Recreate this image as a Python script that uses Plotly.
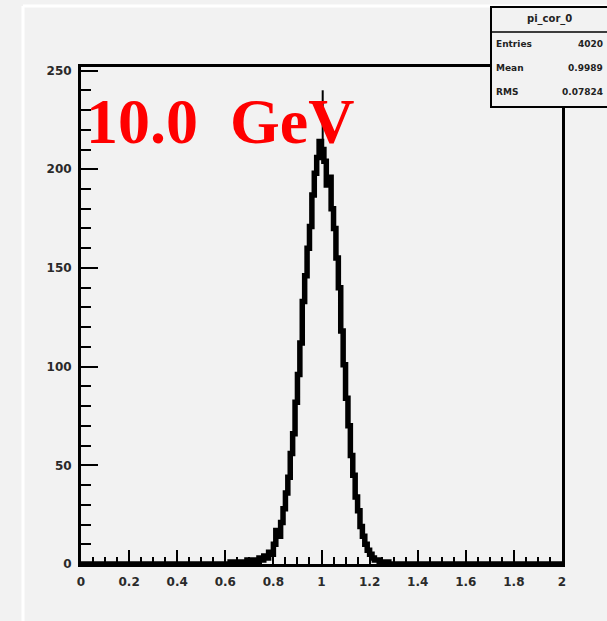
import numpy as np
import plotly.graph_objects as go

# Histogram "pi_cor_0": 200 bins of width 0.01 on [0, 2]; only bins 0.60-1.29 are filled
bin_width = 0.01
first_filled_edge = 0.60
counts = [
    0, 0, 1, 0, 0, 1, 0, 1, 1, 2,          # 0.60 - 0.69
    1, 1, 2, 1, 3, 2, 4, 3, 6, 5,          # 0.70 - 0.79
    10, 17, 14, 21, 28, 36, 44, 56, 66, 82,  # 0.80 - 0.89
    96, 112, 133, 146, 160, 171, 187, 198, 206, 214,  # 0.90 - 0.99
    210, 204, 192, 196, 180, 170, 155, 140, 118, 101,  # 1.00 - 1.09
    84, 70, 55, 45, 34, 27, 19, 14, 10, 7,  # 1.10 - 1.19
    5, 3, 2, 2, 1, 1, 0, 1, 0, 0,          # 1.20 - 1.29
]
# single tall entry marker in the peak bin
spike_x = 1.005
spike_bottom = 205
spike_top = 240

stats_title = "pi_cor_0"
stats_rows = [("Entries", "4020"), ("Mean", "0.9989"), ("RMS", "0.07824")]
energy_label = "10.0\u00a0 GeV"

x_range = [0, 2]
y_range = [0, 251.8]
x_ticks = [0, 0.2, 0.4, 0.6, 0.8, 1, 1.2, 1.4, 1.6, 1.8, 2]
y_ticks = [0, 50, 100, 150, 200, 250]

# full binning over the axis range
n_bins = int(round((x_range[1] - x_range[0]) / bin_width))
edges = x_range[0] + bin_width * np.arange(n_bins + 1)
full = np.zeros(n_bins)
start = int(round((first_filled_edge - x_range[0]) / bin_width))
full[start:start + len(counts)] = counts

step_x = edges
step_y = np.append(full, full[-1])

W, H = 607, 621
L, R, T, B = 81, 45, 67, 57
BG = "#f2f2f2"


def px_x(px):
    return (px - L) / (W - L - R)


def px_y(py):
    return (H - B - py) / (H - T - B)


fig = go.Figure()
fig.add_trace(go.Scatter(
    x=[spike_x, spike_x], y=[spike_bottom, spike_top], mode="lines",
    line=dict(color="black", width=2), hoverinfo="skip", showlegend=False))
fig.add_trace(go.Scatter(
    x=step_x, y=step_y, mode="lines", line_shape="hv",
    line=dict(color="black", width=5.5), showlegend=False))

axis_font = dict(family="DejaVu Sans", size=12, color="#2a2a2a", weight="bold")

fig.update_layout(
    width=W, height=H,
    margin=dict(l=L, r=R, t=T, b=B, pad=0),
    paper_bgcolor=BG, plot_bgcolor=BG,
    showlegend=False,
    xaxis=dict(
        range=x_range, tickvals=x_ticks, ticks="inside", ticklen=14, tickwidth=2,
        tickcolor="black", showline=True, linewidth=3, linecolor="black",
        mirror=True, showgrid=False, zeroline=False, tickfont=axis_font,
        ticklabelstandoff=5,
        minor=dict(dtick=0.05, ticks="inside", ticklen=7, tickwidth=2,
                   tickcolor="black", showgrid=False),
    ),
    yaxis=dict(
        range=y_range, tickvals=y_ticks, ticks="inside", ticklen=17, tickwidth=2,
        tickcolor="black", showline=True, linewidth=3, linecolor="black",
        mirror=True, showgrid=False, zeroline=False, tickfont=axis_font,
        ticklabelstandoff=4,
        minor=dict(dtick=10, ticks="inside", ticklen=10, tickwidth=2,
                   tickcolor="black", showgrid=False),
    ),
)

shapes = [
    # white canvas frame lines
    dict(type="line", xref="paper", yref="paper", x0=px_x(23), x1=px_x(W + 20),
         y0=px_y(6), y1=px_y(6), line=dict(color="white", width=3), layer="above"),
    dict(type="line", xref="paper", yref="paper", x0=px_x(23), x1=px_x(23),
         y0=px_y(6), y1=px_y(H + 20), line=dict(color="white", width=3), layer="above"),
    # statistics box
    dict(type="rect", xref="paper", yref="paper", x0=px_x(491), x1=px_x(W + 20),
         y0=px_y(107), y1=px_y(7), fillcolor=BG,
         line=dict(color="black", width=2), layer="above"),
    dict(type="line", xref="paper", yref="paper", x0=px_x(491), x1=px_x(W + 20),
         y0=px_y(32), y1=px_y(32), line=dict(color="black", width=1.5), layer="above"),
]
fig.update_layout(shapes=shapes)

stat_font = dict(family="DejaVu Sans", size=10, color="#222222", weight="bold")
ann = [dict(text=stats_title, xref="paper", yref="paper", x=px_x(549), y=px_y(19),
            xanchor="center", yanchor="middle", showarrow=False, font=stat_font)]
for i, (name, val) in enumerate(stats_rows):
    yy = px_y(44 + 24 * i)
    ann.append(dict(text=name, xref="paper", yref="paper", x=px_x(494), y=yy,
                    xanchor="left", yanchor="middle", showarrow=False,
                    font=dict(stat_font, size=9)))
    ann.append(dict(text=val, xref="paper", yref="paper", x=px_x(605), y=yy,
                    xanchor="right", yanchor="middle", showarrow=False,
                    font=dict(stat_font, size=9)))
ann.append(dict(text=energy_label, xref="paper", yref="paper", x=px_x(84), y=px_y(122),
                xanchor="left", yanchor="middle", showarrow=False,
                font=dict(family="Liberation Serif", size=64, color="#ff0000", weight="bold")))
fig.update_layout(annotations=ann)

fig.write_html("out.html")
